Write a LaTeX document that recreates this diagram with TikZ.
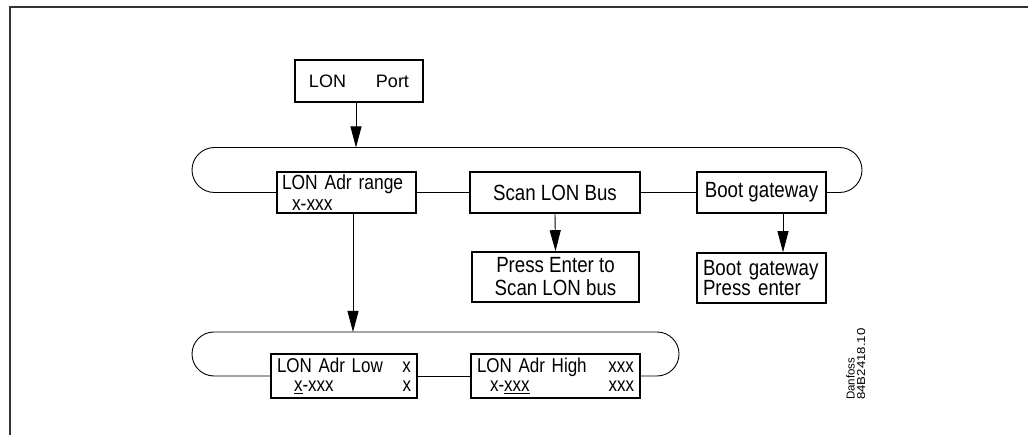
\documentclass[tikz,border=0pt]{standalone}
\usepackage{fontspec}
\setmainfont{Liberation Sans}
\newfontfamily\cadfont[FakeStretch=0.85]{Liberation Sans}
\newfontfamily\tagfont[FakeStretch=1.15]{Liberation Sans}
\usetikzlibrary{arrows.meta}
\begin{document}
\begin{tikzpicture}[x=1pt,y=-1pt,
  box/.style={draw, line width=1.6pt, inner sep=0pt, font=\cadfont\fontsize{22}{17}\selectfont},
  conn/.style={line width=0.9pt},
  arr/.style={conn, -{Triangle[length=21pt,width=11pt]}},
  frame/.style={line width=1.8pt, black!80}
]
\useasboundingbox (0,0) rectangle (1028,435);
\draw[frame] (1028,7) -- (10,7) -- (10,435);

% top box
\node[box, minimum width=128pt, minimum height=42pt, font=\fontsize{18}{20}\selectfont] (port) at (359,81) {LON\hspace{30pt}Port};

% upper loop boxes
\node[box, text width=129pt, inner xsep=5pt, minimum height=41pt, align=left,
      font=\cadfont\fontsize{20.5}{20.5}\selectfont] (range) at (346.5,192.5) {LON Adr range\\\hspace*{10pt}x-xxx};
\node[box, minimum width=170pt, minimum height=41pt] (scan) at (555,192.5) {Scan LON Bus};
\node[box, minimum width=129pt, minimum height=41pt] (boot) at (761.5,192.5) {Boot gateway};

% sub boxes
\node[box, minimum width=167pt, minimum height=50pt, align=center,
      font=\cadfont\fontsize{22}{23}\selectfont] (press) at (555.5,277) {Press Enter to\\Scan LON bus};
\node[box, text width=117pt, inner xsep=6pt, minimum height=50pt, align=left,
      font=\cadfont\fontsize{22}{20}\selectfont] (bootp) at (761.5,278) {Boot gateway\\Press enter};

% lower loop boxes
\node[box, text width=134pt, inner xsep=6pt, minimum height=44pt, align=left,
      font=\cadfont\fontsize{20}{18.5}\selectfont] (low) at (344,376) {LON Adr Low\hfill x\\\hspace*{17pt}\underline{x}-xxx\hfill x};
\node[box, text width=157pt, inner xsep=6pt, minimum height=44pt, align=left,
      font=\cadfont\fontsize{20}{18.5}\selectfont] (high) at (555.5,376) {LON Adr High\hfill xxx\hspace*{4pt}\\\hspace*{13pt}x-\underline{xxx}\hfill xxx\hspace*{4pt}};

% loops
\draw[conn, rounded corners=22.5pt] (range.west) -- (192,192.5) -- (192,147.5) -- (862,147.5) -- (862,192.5) -- (boot.east);
\draw[conn] (range.east) -- (scan.west);
\draw[conn] (scan.east) -- (boot.west);

\draw[conn, rounded corners=22pt] (low.west) -- (192,376) -- (192,332) -- (679,332) -- (679,376) -- (high.east);
\draw[conn] (low.east) -- (high.west);

% arrows
\coordinate (t1) at (356,147.5);
\coordinate (t2) at (353,332);
\draw[arr] (port.south -| t1) -- (t1);
\draw[arr] (range.south -| t2) -- (t2);
\draw[arr] (scan.south) -- (press.north);
\draw[arr] ([xshift=21.5pt]boot.south) -- ([xshift=21.5pt]bootp.north);

% drawing tag
\node[rotate=90, anchor=north west, inner sep=0pt, align=left,
      font=\fontsize{11.5}{10.5}\selectfont] (tag) at (846,400) {Danfoss\\{\tagfont 84B2418.10}};
\end{tikzpicture}
\end{document}
